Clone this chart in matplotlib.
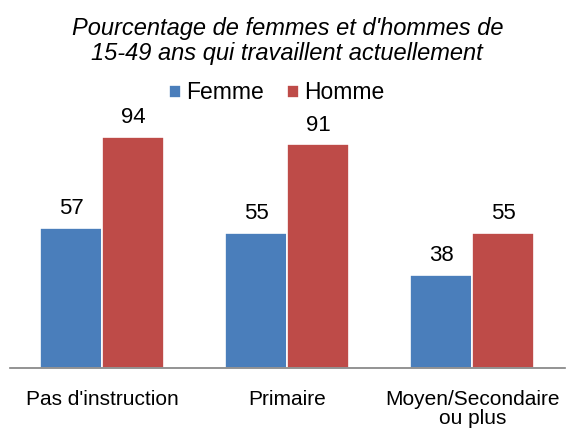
import numpy as np
import matplotlib.pyplot as plt

plt.rcParams['font.family'] = ['Liberation Sans', 'DejaVu Sans']

categories = ["Pas d'instruction", "Primaire", "Moyen/Secondaire\nou plus"]
femme = [57, 55, 38]
homme = [94, 91, 55]

blue = '#4A7EBB'
red = '#BE4B48'

fig = plt.figure(figsize=(5.7, 4.32), dpi=100)
ax = fig.add_axes([0.0175, 0.148, 0.9735, 0.5694])

x = np.arange(len(categories))
w = 0.335
b1 = ax.bar(x - w / 2, femme, w, color=blue, edgecolor='white', linewidth=1.2, label='Femme')
b2 = ax.bar(x + w / 2, homme, w, color=red, edgecolor='white', linewidth=1.2, label='Homme')

for bars in (b1, b2):
    for r in bars:
        ax.text(r.get_x() + r.get_width() / 2, r.get_height() + 3.5, f"{r.get_height():.0f}",
                ha='center', va='bottom', fontsize=16)

ax.set_xlim(-0.5, 2.5)
ax.set_ylim(0, 100)
ax.set_yticks([])
ax.set_xticks(x)
ax.set_xticklabels(categories, fontsize=15, linespacing=1.0)
ax.tick_params(axis='x', length=0, pad=16)
for s in ['top', 'right', 'left']:
    ax.spines[s].set_visible(False)
ax.spines['bottom'].set_color('#808080')
ax.spines['bottom'].set_linewidth(1.2)

fig.text(0.504, 0.905, "Pourcentage de femmes et d'hommes de\n15-49 ans qui travaillent actuellement",
         ha='center', va='center', fontsize=17, style='italic', linespacing=1.12)

fig.legend(handles=[b1, b2], loc='center', bbox_to_anchor=(0.486, 0.785), ncol=2, frameon=False,
           fontsize=16.5, handlelength=0.5, handleheight=0.5, handletextpad=0.25, columnspacing=1.0,
           borderpad=0, borderaxespad=0)

plt.savefig('out.png', dpi=100)
plt.close('all')
